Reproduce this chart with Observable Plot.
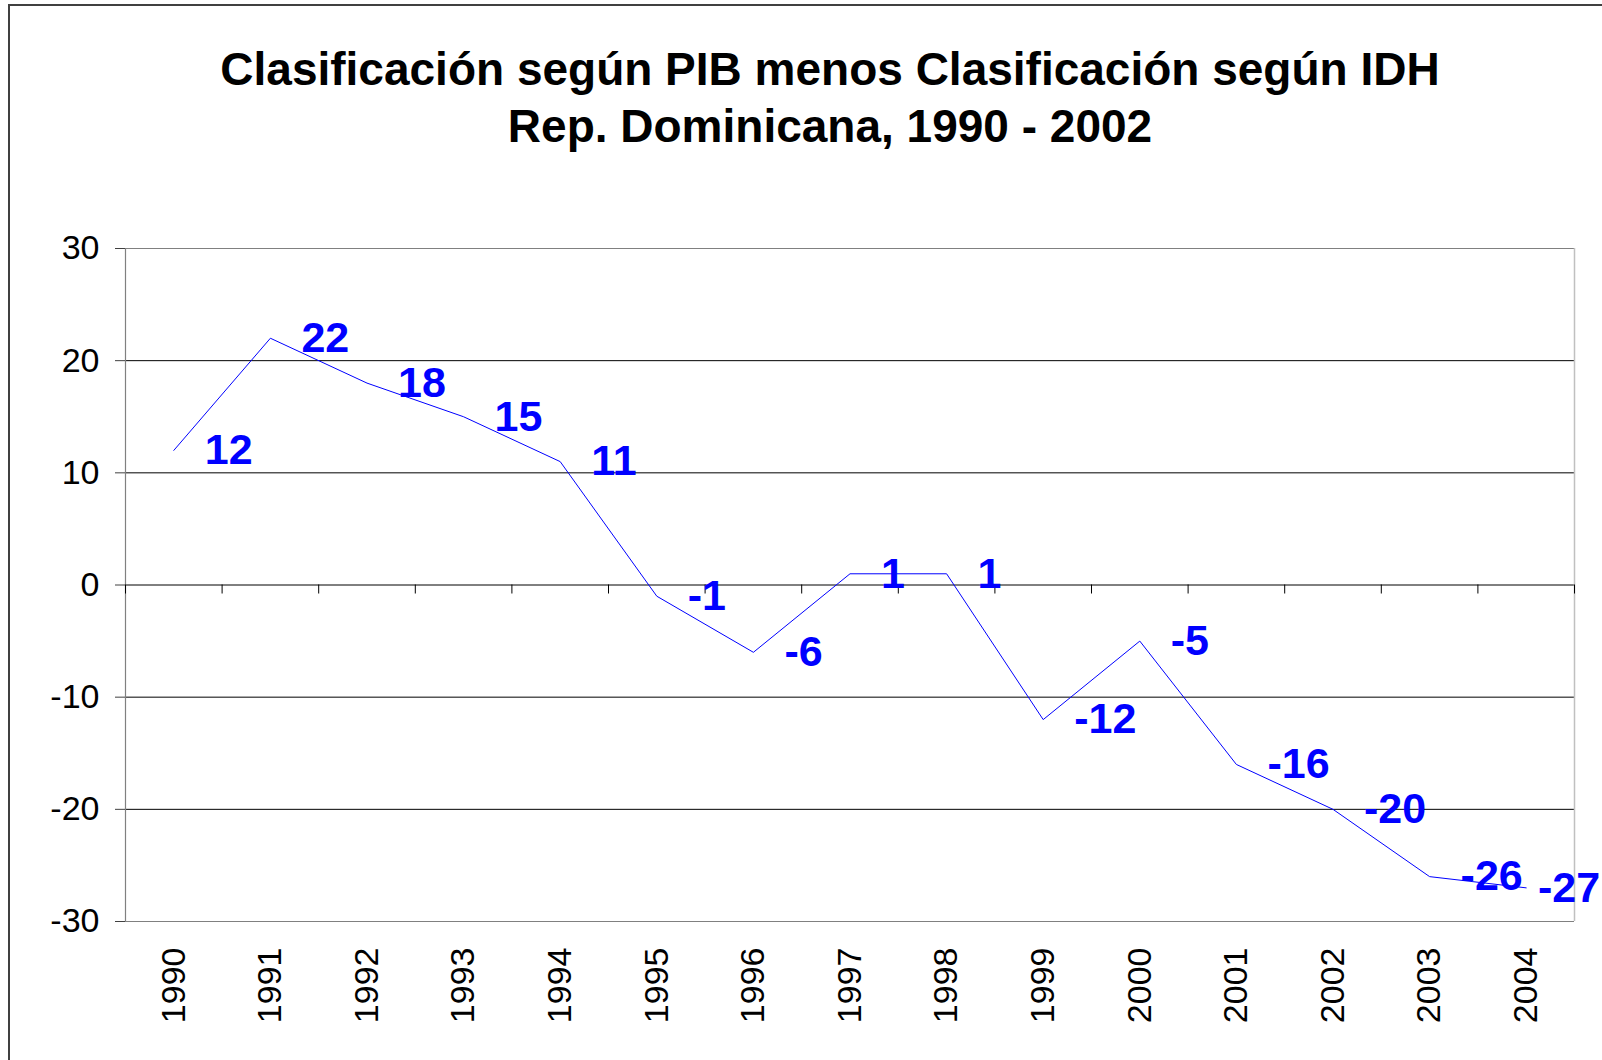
<!DOCTYPE html>
<html>
<head>
<meta charset="utf-8">
<script src="https://cdn.jsdelivr.net/npm/d3@7"></script>
<script src="https://cdn.jsdelivr.net/npm/@observablehq/plot@0.6"></script>
<style>
  html, body { margin: 0; padding: 0; background: #fff; overflow: hidden; width: 1602px; height: 1060px; }
  #frame { position: absolute; left: 8px; top: 4px; width: 1800px; height: 1200px;
           border-left: 2px solid #404040; border-top: 2px solid #404040; pointer-events: none; }
  #title { width: 1660px; height: 160px; box-sizing: border-box; padding-top: 41px; text-align: center;
           font-family: "Liberation Sans", Arial, sans-serif; font-weight: bold; font-size: 46px;
           line-height: 57px; color: #000; }
  #chart { display: block; }
</style>
</head>
<body>
<div id="frame"></div>
<div id="title">Clasificación según PIB menos Clasificación según IDH<br>Rep. Dominicana, 1990 - 2002</div>
<div id="chart"></div>
<script>
const years = [1990, 1991, 1992, 1993, 1994, 1995, 1996, 1997, 1998, 1999, 2000, 2001, 2002, 2003, 2004];
const values = [12, 22, 18, 15, 11, -1, -6, 1, 1, -12, -5, -16, -20, -26, -27];
const yTicks = [-30, -20, -10, 0, 10, 20, 30];

const data = years.map((year, i) => ({year, value: values[i]}));
const first = years[0] - 0.5;
const last = years[years.length - 1] + 0.5;
const boundaries = years.map(y => y - 0.5).concat([last]);
const yMin = d3.min(yTicks), yMax = d3.max(yTicks);
const innerTicks = yTicks.filter(t => t !== yMin && t !== yMax);

const font = "Liberation Sans, Arial, sans-serif";

const chart = Plot.plot({
  width: 1602,
  height: 900,
  marginTop: 88,
  marginBottom: 139,
  marginLeft: 125,
  marginRight: 28,
  x: {type: "linear", domain: [first, last], label: null},
  y: {domain: [yMin, yMax], label: null},
  style: {fontFamily: font, fontSize: "34px", color: "#000", background: "transparent", overflow: "visible"},
  marks: [
    Plot.ruleY(innerTicks, {stroke: "#000", strokeWidth: 1}),
    Plot.ruleY([yMin, yMax], {stroke: "#808080", strokeWidth: 1.2}),
    Plot.ruleX([first], {stroke: "#808080", strokeWidth: 1.2}),
    Plot.ruleX([last], {stroke: "#c0c0c0", strokeWidth: 1.5}),
    Plot.ruleX(boundaries, {x: d => d, y1: 0, y2: 0, insetBottom: -9, stroke: "#000", strokeWidth: 1}),
    Plot.axisY({ticks: yTicks, tickSize: 10, tickPadding: 16, tickFormat: d => String(d), label: null,
                fontSize: 34, stroke: "#404040", fill: "#000"}),
    Plot.axisX({ticks: years, tickFormat: d => String(d), tickRotate: -90, tickSize: 0, label: null,
                tickPadding: 26, fontSize: 34, fill: "#000"}),
    Plot.line(data, {x: "year", y: "value", stroke: "#0000FF", strokeWidth: 1}),
    Plot.text(data.slice(0, -1), {x: "year", y: "value", text: d => String(d.value),
      textAnchor: "start", dx: 31, fill: "#0000FF", fontWeight: "bold", fontSize: 43, fontFamily: font}),
    Plot.text(data.slice(-1), {x: "year", y: "value", text: d => String(d.value),
      textAnchor: "end", dx: 74, fill: "#0000FF", fontWeight: "bold", fontSize: 43, fontFamily: font})
  ]
});
document.getElementById("chart").appendChild(chart);
</script>
</body>
</html>
